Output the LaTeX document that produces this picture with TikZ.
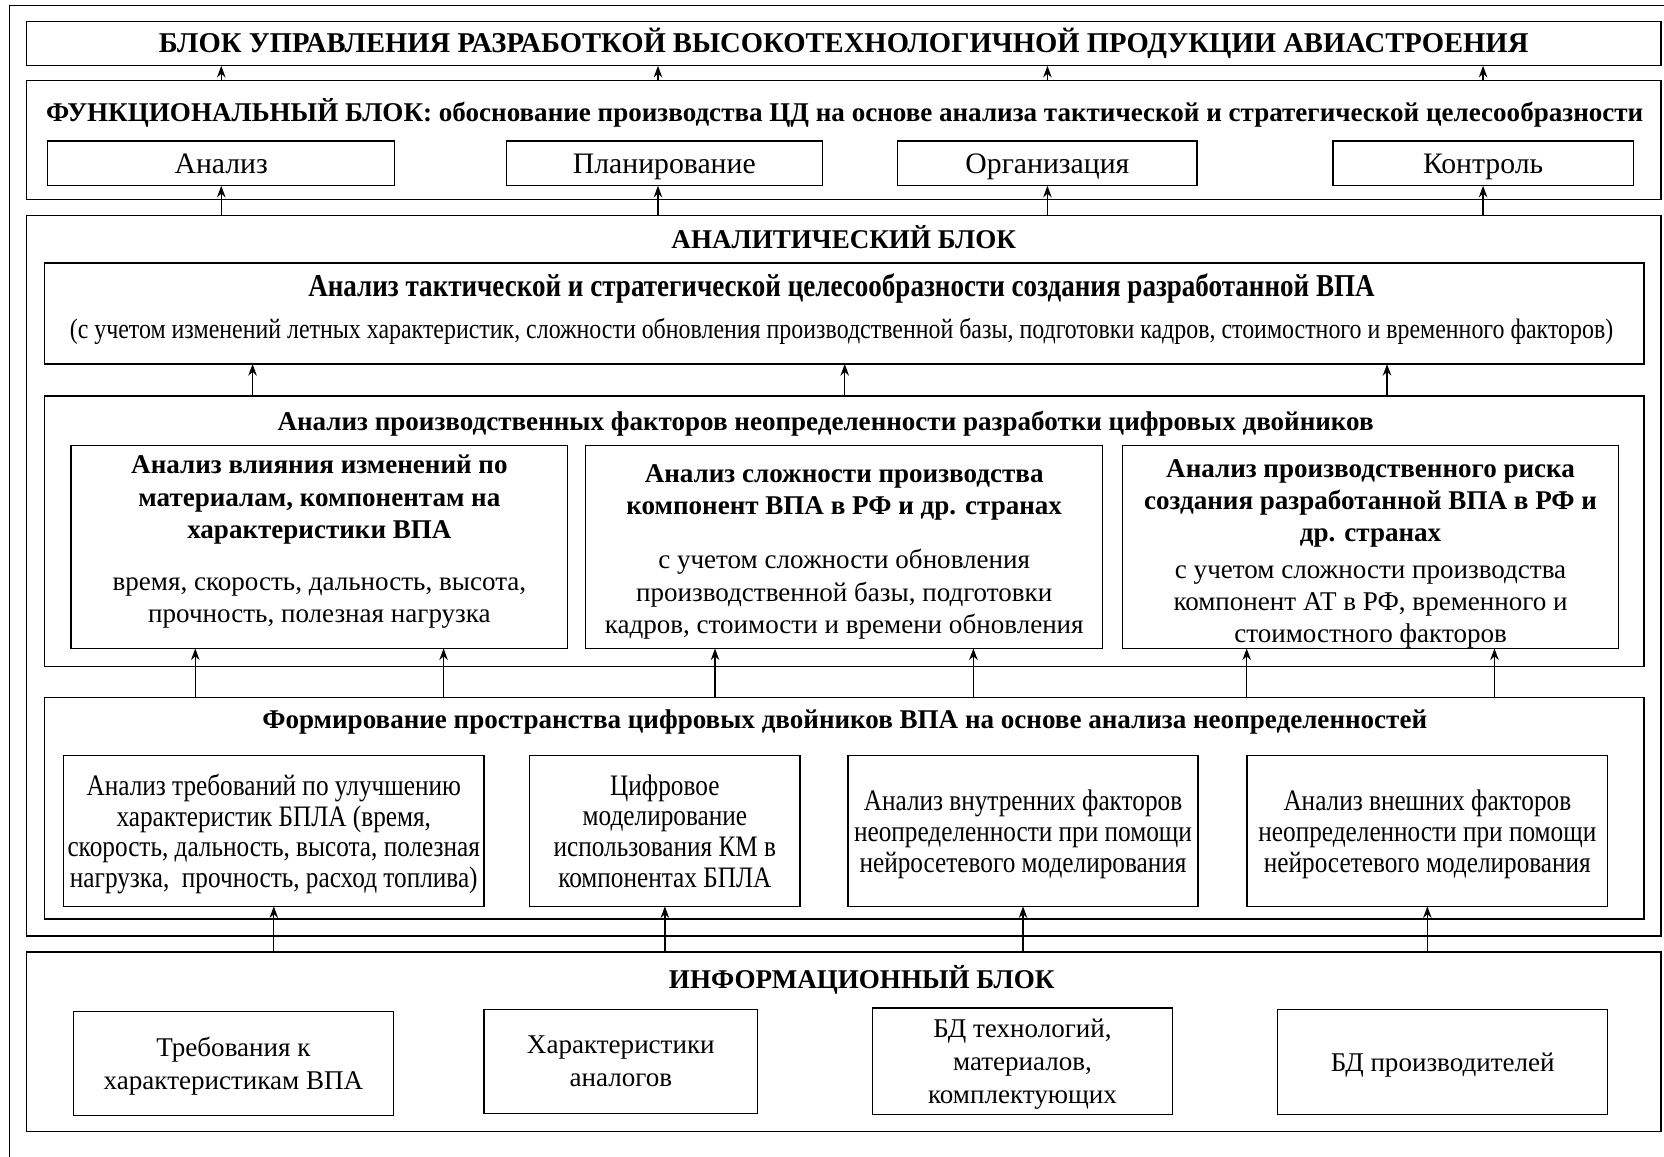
\documentclass[tikz,border=0pt]{standalone}
\usepackage{fontspec}
\setmainfont{Liberation Serif}
\newfontfamily\condfont[FakeStretch=0.85]{Liberation Serif}
\usetikzlibrary{arrows.meta,calc}

\newcommand\fsz[2]{\fontsize{#1}{#2}\selectfont}

\tikzset{
  frame/.style={draw, line width=1.3pt, inner sep=0pt, outer sep=0pt},
  box/.style={frame, align=center, text depth=0pt, font=\fsz{25.5}{31}},
  cbox/.style={frame, align=center, text depth=0pt, font=\condfont\fsz{28}{29}},
  ttl/.style={inner sep=0pt, align=center, font=\bfseries\fsz{25.5}{30.5}},
  txt/.style={inner sep=0pt, align=center, font=\fsz{25.5}{30.5}},
  arr/.style={-{Stealth[length=11pt,width=8pt]}, line width=1.3pt},
}

\begin{document}
\begin{tikzpicture}[x=1pt, y=-1pt]
\useasboundingbox (0,0) rectangle (1568,1090);
% outer frame, cut by the page
\draw[line width=1.3pt] (9,1090) -- (9,5) -- (1568,5);

% management block
\node[frame, minimum width=1540, minimum height=42, font=\bfseries\fsz{27}{31}] (upr) at (795,41)
  {БЛОК УПРАВЛЕНИЯ РАЗРАБОТКОЙ ВЫСОКОТЕХНОЛОГИЧНОЙ ПРОДУКЦИИ АВИАСТРОЕНИЯ};

% functional block
\node[frame, minimum width=1540, minimum height=112] (func) at (795,132) {};
\node[ttl] (funcT) at (796,106)
  {ФУНКЦИОНАЛЬНЫЙ БЛОК: обоснование производства ЦД на основе анализа тактической и стратегической целесообразности};
\node[box, minimum width=327, minimum height=42, font=\fsz{28}{31}] (anlz) at (208.5,154) {Анализ};
\node[box, minimum width=298, minimum height=42, font=\fsz{28}{31}] (plan) at (626,154) {Планирование};
\node[box, minimum width=282, minimum height=42, font=\fsz{28}{31}] (org) at (987,154) {Организация};
\node[box, minimum width=283, minimum height=42, font=\fsz{28}{31}] (ctrl) at (1397.5,154) {Контроль};
\coordinate (planX) at ([xshift=-6]plan.south);

% analytic block
\node[frame, minimum width=1540, minimum height=679] (anal) at (795,542.5) {};
\node[ttl] (analT) at (795,223) {АНАЛИТИЧЕСКИЙ БЛОК};

\node[frame, minimum width=1507, minimum height=95] (tact) at (795.5,295.5) {};
\node[ttl, font=\bfseries\condfont\fsz{30}{30}] (tactH) at (793,272)
  {Анализ тактической и стратегической целесообразности создания разработанной ВПА};
\node[txt, font=\condfont\fsz{26.5}{28}] (tactT) at (793,312.5)
  {(с учетом изменений летных характеристик, сложности обновления производственной базы, подготовки кадров, стоимостного и временного факторов)};

\node[frame, minimum width=1507, minimum height=255] (prod) at (795.5,500.5) {};
\node[ttl] (prodT) at (778,399.5) {Анализ производственных факторов неопределенности разработки цифровых двойников};
\node[frame, minimum width=468, minimum height=191] (b1) at (301,515.5) {};
\node[frame, minimum width=487, minimum height=191] (b2) at (795.5,515.5) {};
\node[frame, minimum width=467, minimum height=191] (b3) at (1291.5,515.5) {};
\node[ttl] (b1H) at (301,471) {Анализ влияния изменений по\\материалам, компонентам на\\характеристики ВПА};
\node[txt] (b1T) at (301,568) {время, скорость, дальность, высота,\\прочность, полезная нагрузка};
\node[ttl] (b2H) at (795.5,464) {Анализ сложности производства\\компонент ВПА в РФ и др. странах};
\node[txt] (b2T) at (795.5,560) {с учетом сложности обновления\\производственной базы, подготовки\\кадров, стоимости и времени обновления};
\node[ttl] (b3H) at (1291.5,474.5) {Анализ производственного риска\\создания разработанной ВПА в РФ и\\др. странах};
\node[txt] (b3T) at (1291.5,572) {с учетом сложности производства\\компонент АТ в РФ, временного и\\стоимостного факторов};

\node[frame, minimum width=1507, minimum height=209] (form) at (795.5,761.5) {};
\node[ttl] (formT) at (796,680) {Формирование пространства цифровых двойников ВПА на основе анализа неопределенностей};
\node[cbox, minimum width=396, minimum height=142] (c1) at (258,783)
  {Анализ требований по улучшению\\характеристик БПЛА (время,\\скорость, дальность, высота, полезная\\нагрузка,\ \ прочность, расход топлива)};
\node[cbox, minimum width=255, minimum height=142] (c2) at (626.5,783)
  {Цифровое\\моделирование\\использования КМ в\\компонентах БПЛА};
\node[cbox, minimum width=330, minimum height=142] (c3) at (964,783)
  {Анализ внутренних факторов\\неопределенности при помощи\\нейросетевого моделирования};
\node[cbox, minimum width=340, minimum height=142] (c4) at (1345,783)
  {Анализ внешних факторов\\неопределенности при помощи\\нейросетевого моделирования};

% information block
\node[frame, minimum width=1540, minimum height=169] (inf) at (795,981.5) {};
\node[ttl] (infT) at (812,923) {ИНФОРМАЦИОННЫЙ БЛОК};
\node[box, minimum width=302, minimum height=98] (d1) at (220,1002) {Требования к\\характеристикам ВПА};
\node[box, minimum width=258, minimum height=98] (d2) at (585,1000) {Характеристики\\аналогов};
\node[box, minimum width=283, minimum height=100] (d3) at (963.5,1000) {БД технологий,\\материалов,\\комплектующих};
\node[box, minimum width=311, minimum height=99] (d4) at (1359.5,1000.5) {БД производителей};

% arrows
\foreach \n in {anlz,org,ctrl} {
  \draw[arr] (func.north -| \n) -- (upr.south -| \n);
  \draw[arr] (anal.north -| \n) -- (\n.south);
}
\draw[arr] (func.north -| planX) -- (upr.south -| planX);
\draw[arr] (anal.north -| planX) -- (planX);
\foreach \x in {238,796,1307}
  \draw[arr] (prod.north -| \x,0) -- (tact.south -| \x,0);
\foreach \n in {b1,b2,b3} {
  \coordinate (L\n) at ($(\n.south west)!.25!(\n.south east)$);
  \coordinate (R\n) at ($(\n.south west)!.75!(\n.south east)$);
  \draw[arr] (form.north -| L\n) -- (L\n);
  \draw[arr] (form.north -| R\n) -- (R\n);
}
\foreach \n in {c1,c2,c3,c4}
  \draw[arr] (inf.north -| \n) -- (\n.south);
\end{tikzpicture}
\end{document}
